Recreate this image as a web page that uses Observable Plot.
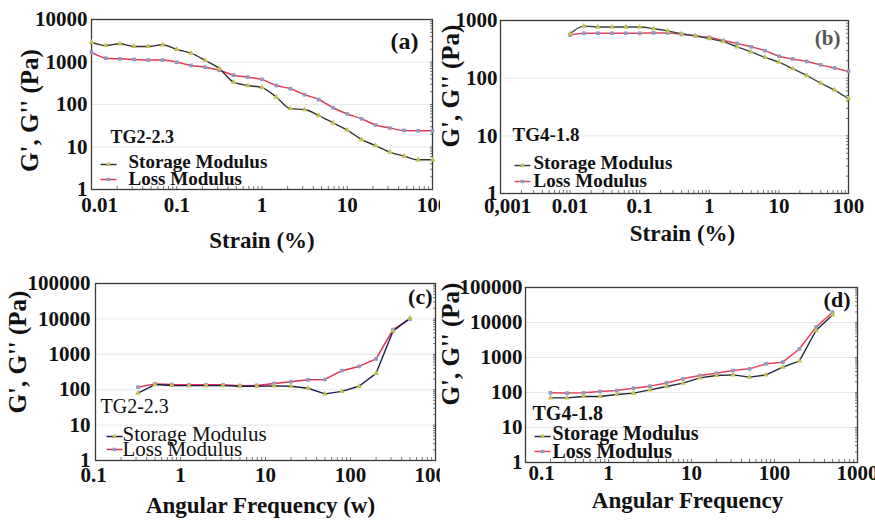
<!DOCTYPE html>
<html><head><meta charset="utf-8">
<script src="https://cdn.jsdelivr.net/npm/d3@7"></script>
<script src="https://cdn.jsdelivr.net/npm/@observablehq/plot@0.6"></script>
<style>
body{margin:0;background:#fff;}
#wrap{position:relative;width:875px;height:522px;overflow:hidden;background:#fff;}
#wrap svg{position:absolute;}
</style></head><body><div id="wrap"></div>
<script>
// ---------- data ----------
const xA = [0.01, 0.0147, 0.0215, 0.0316, 0.0464, 0.0681, 0.1, 0.147, 0.215, 0.316, 0.464, 0.681, 1, 1.47, 2.15, 3.16, 4.64, 6.81, 10, 14.7, 21.5, 31.6, 46.4, 68.1, 100];
const storageA = [2900, 2450, 2680, 2320, 2320, 2540, 1970, 1610, 1090, 700, 335, 280, 250, 150, 80, 76, 55, 37, 25, 15, 10.8, 7.6, 6.1, 5.0, 5.0];
const lossA = [1700, 1230, 1190, 1150, 1110, 1110, 990, 830, 755, 640, 490, 440, 390, 280, 235, 170, 131, 84, 60, 46, 33, 28, 24.4, 24, 24];

const xB = [0.01, 0.0158, 0.0251, 0.0398, 0.0631, 0.1, 0.158, 0.251, 0.398, 0.631, 1, 1.58, 2.51, 3.98, 6.31, 10, 15.8, 25.1, 39.8, 63.1, 100];
const storageB = [590, 800, 770, 770, 770, 770, 720, 660, 590, 540, 485, 430, 350, 285, 230, 189, 146, 111, 82, 62, 44];
const lossB = [560, 600, 600, 600, 600, 600, 610, 610, 575, 540, 510, 450, 400, 350, 300, 240, 215, 195, 170, 150, 131];

const xC = [0.316, 0.5, 0.79, 1.26, 2, 3.16, 5, 7.9, 12.6, 20, 31.6, 50, 79, 126, 200, 316, 500];
const storageC = [80, 140, 132, 130, 130, 130, 125, 125, 128, 125, 110, 76, 90, 125, 290, 4500, 10500];
const lossC = [118, 146, 140, 138, 138, 138, 130, 132, 150, 168, 190, 195, 345, 455, 740, 5000, 9800];

const xD = [0.2, 0.316, 0.5, 0.79, 1.26, 2, 3.16, 5, 7.9, 12.6, 20, 31.6, 50, 79, 126, 200, 316, 500];
const storageD = [70, 70, 77, 77, 88, 96, 119, 148, 185, 262, 306, 318, 274, 318, 530, 800, 5900, 16500];
const lossD = [98, 96, 98, 107, 114, 133, 152, 188, 246, 306, 356, 425, 474, 660, 736, 1770, 7360, 19700];

const ticksStrainA = [0.01, 0.1, 1, 10, 100];
const labelsStrainA = ["0.01", "0.1", "1", "10", "100"];
const ticksStrainB = [0.001, 0.01, 0.1, 1, 10, 100];
const labelsStrainB = ["0,001", "0.01", "0.1", "1", "10", "100"];
const ticksFreq = [0.1, 1, 10, 100, 1000];
const labelsFreq = ["0.1", "1", "10", "100", "1000"];
const ticksModA = [1, 10, 100, 1000, 10000];
const labelsModA = ["1", "10", "100", "1000", "10000"];
const ticksModB = [1, 10, 100, 1000];
const labelsModB = ["1", "10", "100", "1000"];
const ticksModC = [1, 10, 100, 1000, 10000, 100000];
const labelsModC = ["1", "10", "100", "1000", "10000", "100000"];

const seriesNames = ["Storage Modulus", "Loss Modulus"];
const sampleNames = ["TG2-2.3", "TG4-1.8", "TG2-2.3", "TG4-1.8"];
const panelTags = ["(a)", "(b)", "(c)", "(d)"];
const yTitle = "G', G'' (Pa)";
const xTitles = ["Strain (%)", "Strain (%)", "Angular Frequency (w)", "Angular Frequency"];

// ---------- drawing ----------
const FONT = "'Liberation Serif', 'Times New Roman', serif";
const storageMarker = "#c4bd52";
const lossMarker = "#8d9cc2";
const dashSymbol = {draw(ctx) { ctx.moveTo(-8, 0); ctx.lineTo(8, 0); }};

function minorTicks(domain) {
  return d3.scaleLog().domain(domain).ticks().filter(t => !domain.includes(t));
}

function panel(o) {
  const sto = o.x.map((x, i) => ({x, v: o.storage[i]}));
  const los = o.x.map((x, i) => ({x, v: o.loss[i]}));
  const xl = new Map(o.xTicks.map((t, i) => [t, o.xLabels[i]]));
  const yl = new Map(o.yTicks.map((t, i) => [t, o.yLabels[i]]));
  const xDom = [o.xTicks[0], o.xTicks[o.xTicks.length - 1]];
  const yDom = [o.yTicks[0], o.yTicks[o.yTicks.length - 1]];
  const lw = o.legendWeight;
  const svg = Plot.plot({
    width: o.w, height: o.h,
    marginTop: o.m[0], marginRight: o.m[1], marginBottom: o.m[2], marginLeft: o.m[3],
    style: {fontFamily: FONT, fontWeight: "bold", fontSize: o.tickSize + "px", color: "#111", background: o.bg},
    x: {type: "log", domain: xDom, label: null},
    y: {type: "log", domain: yDom, label: null},
    marks: [
      Plot.gridY(o.yTicks.slice(1, -1), {stroke: "#d8d8d8", strokeOpacity: 0.6}),
      Plot.axisX(o.xTicks.slice(0, 1), {tickSize: 0, tickPadding: o.xPad, dx: o.firstDx, tickFormat: d => xl.get(d), label: null}),
      Plot.axisX(o.xTicks.slice(1), {tickSize: 0, tickPadding: o.xPad, tickFormat: d => xl.get(d), label: null}),
      Plot.axisY(o.yTicks, {tickSize: 0, tickPadding: o.yPad, tickFormat: d => yl.get(d), label: null}),
      Plot.axisX(minorTicks(xDom), {tickSize: -3, text: null, stroke: "#777", label: null}),
      Plot.axisY(minorTicks(yDom), {anchor: "right", tickSize: -3, text: null, stroke: "#777", label: null}),
      Plot.frame({stroke: "#3a3a3a", strokeWidth: 1.3}),
      Plot.line(los, {x: "x", y: "v", stroke: o.lossColor, strokeWidth: 1.5, curve: o.curve}),
      Plot.line(sto, {x: "x", y: "v", stroke: o.storageColor, strokeWidth: 1.4, curve: o.curve}),
      Plot.dot(los, {x: "x", y: "v", symbol: "square", r: 2.1, fill: lossMarker, stroke: "none"}),
      Plot.dot(sto, {x: "x", y: "v", symbol: "triangle", r: 2.1, fill: storageMarker, stroke: "none"}),
      // titles
      Plot.text([o.xTitle], {text: d => d, frameAnchor: "bottom", textAnchor: "middle", lineAnchor: "middle", dx: o.xt[0], dy: o.xt[1], fontSize: o.titleSize, fontWeight: "bold"}),
      Plot.text([yTitle], {text: d => d, frameAnchor: "left", textAnchor: "middle", lineAnchor: "middle", rotate: -90, dx: o.yt[0], dy: o.yt[1], fontSize: o.yTitleSize, fontWeight: "bold"}),
      Plot.text([o.tag], {text: d => d, frameAnchor: "top-right", textAnchor: "end", lineAnchor: "bottom", dx: o.tagPos[0], dy: o.tagPos[1], fontSize: o.tagSize, fill: o.tagColor, fontWeight: "bold"}),
      // sample name + legend
      Plot.text([o.name], {text: d => d, frameAnchor: "bottom-left", textAnchor: "start", lineAnchor: "bottom", dx: o.namePos[0], dy: o.namePos[1], fontSize: o.nameSize, fontWeight: lw}),
      Plot.text([seriesNames[0]], {text: d => d, frameAnchor: "bottom-left", textAnchor: "start", lineAnchor: "bottom", dx: o.leg[0], dy: o.leg[1], fontSize: o.legSize, fontWeight: lw}),
      Plot.text([seriesNames[1]], {text: d => d, frameAnchor: "bottom-left", textAnchor: "start", lineAnchor: "bottom", dx: o.leg[0], dy: o.leg[2], fontSize: o.legSize, fontWeight: lw}),
      Plot.dot([0], {frameAnchor: "bottom-left", dx: o.sym[0], dy: o.sym[1], symbol: dashSymbol, r: 4, fill: "none", stroke: o.storageColor, strokeWidth: 1.5}),
      Plot.dot([0], {frameAnchor: "bottom-left", dx: o.sym[0], dy: o.sym[2], symbol: dashSymbol, r: 4, fill: "none", stroke: o.lossColor, strokeWidth: 1.5}),
      Plot.dot([0], {frameAnchor: "bottom-left", dx: o.sym[0], dy: o.sym[1], symbol: "triangle", r: 2, fill: storageMarker}),
      Plot.dot([0], {frameAnchor: "bottom-left", dx: o.sym[0], dy: o.sym[2], symbol: "square", r: 2, fill: lossMarker})
    ]
  });
  svg.style.left = o.left + "px";
  svg.style.top = o.top + "px";
  return svg;
}

const wrap = document.getElementById("wrap");
wrap.appendChild(panel({
  left: 0, top: 0, w: 440, h: 260, m: [19, 8, 71, 91], bg: "transparent",
  x: xA, storage: storageA, loss: lossA, curve: "monotone-x",
  xTicks: ticksStrainA, xLabels: labelsStrainA, yTicks: ticksModA, yLabels: labelsModA,
  tickSize: 21, xPad: 8, yPad: 4, firstDx: 8,
  xTitle: xTitles[0], xt: [0, 51], titleSize: 23, yt: [-62, 6], yTitleSize: 25,
  tag: panelTags[0], tagPos: [-14, 29], tagSize: 24, tagColor: "#111",
  name: sampleNames[0], namePos: [19, -47], nameSize: 18, legendWeight: "bold",
  leg: [37, -22, -5], legSize: 19, sym: [17, -25, -10],
  storageColor: "#333333", lossColor: "#e23a55"
}));
wrap.appendChild(panel({
  left: 0, top: 260, w: 440, h: 262, m: [23, 5, 62, 95], bg: "transparent",
  x: xC, storage: storageC, loss: lossC, curve: "linear",
  xTicks: ticksFreq, xLabels: labelsFreq, yTicks: ticksModC, yLabels: labelsModC,
  tickSize: 21, xPad: 7, yPad: 5, firstDx: -2,
  xTitle: xTitles[2], xt: [-5, 45], titleSize: 23, yt: [-78, -20], yTitleSize: 25,
  tag: panelTags[2], tagPos: [-3, 20], tagSize: 22, tagColor: "#111",
  name: sampleNames[2], namePos: [5, -48], nameSize: 20, legendWeight: "normal",
  leg: [27, -20, -5], legSize: 21, sym: [19, -24, -11],
  storageColor: "#1c1e52", lossColor: "#e2304f"
}));
wrap.appendChild(panel({
  left: 440, top: 0, w: 435, h: 260, m: [20, 27, 67, 60], bg: "#fff",
  x: xB, storage: storageB, loss: lossB, curve: "monotone-x",
  xTicks: ticksStrainB, xLabels: labelsStrainB, yTicks: ticksModB, yLabels: labelsModB,
  tickSize: 21, xPad: 5, yPad: 3, firstDx: 7,
  xTitle: xTitles[1], xt: [8, 40], titleSize: 23, yt: [-50, -21], yTitleSize: 25,
  tag: panelTags[1], tagPos: [-8, 24], tagSize: 21, tagColor: "#555",
  name: sampleNames[1], namePos: [12, -53], nameSize: 19, legendWeight: "bold",
  leg: [33, -25, -7], legSize: 19, sym: [22, -28, -12],
  storageColor: "#384444", lossColor: "#d94a5f"
}));
wrap.appendChild(panel({
  left: 440, top: 260, w: 435, h: 262, m: [27, 18, 60, 85], bg: "#fff",
  x: xD, storage: storageD, loss: lossD, curve: "linear",
  xTicks: ticksFreq, xLabels: labelsFreq, yTicks: ticksModC, yLabels: labelsModC,
  tickSize: 21, xPad: 3, yPad: 3, firstDx: 16,
  xTitle: xTitles[3], xt: [-4, 38], titleSize: 23, yt: [-75, -31], yTitleSize: 25,
  tag: panelTags[3], tagPos: [-7, 19], tagSize: 22, tagColor: "#111",
  name: sampleNames[3], namePos: [7, -43], nameSize: 20, legendWeight: "bold",
  leg: [27, -23, -5], legSize: 20, sym: [17, -26, -11],
  storageColor: "#1e2a3a", lossColor: "#e8445e"
}));
</script></body></html>
